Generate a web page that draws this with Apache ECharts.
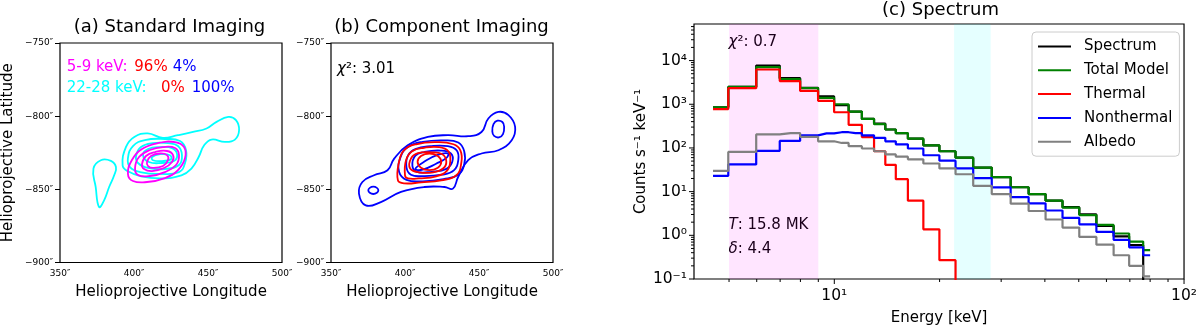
<!DOCTYPE html>
<html>
<head>
<meta charset="UTF-8">
<title>Standard / Component Imaging and Spectrum</title>
<script src="https://cdn.jsdelivr.net/npm/echarts@6/dist/echarts.min.js"></script>
<style>
  body { margin: 0; background: #fff; }
  #chart { width: 1200px; height: 331px; }
</style>
</head>
<body>
<div id="chart"></div>
<script>
var FONT = 'DejaVu Sans';

// ---- (c) spectrum: bin centres [keV] and counts s^-1 keV^-1 ----
var energy = [4.5, 5.5, 6.5, 7.5, 8.5, 9.5, 10.5, 11.5, 12.5, 13.5, 14.5, 15.5, 17, 19, 21, 23.5, 26.5, 30, 34, 38, 42.5, 47.5, 53, 59.5, 66.5, 73, 80];
var spectrum   = [850, 2490, 7700, 3980, 2380, 1510, 960, 680, 462, 362, 264, 218, 163, 115, 84, 60, 35.5, 21.4, 12.6, 8.8, 6.2, 4.4, 3.0, 1.65, 0.95, 0.6, 0.04];
var totalModel = [850, 2490, 7100, 3780, 2330, 1400, 1000, 680, 462, 350, 264, 218, 163, 115, 84, 60, 35.5, 21.4, 12.6, 8.8, 6.2, 4.3, 2.9, 1.73, 1.1, 0.72, 0.46];
var thermal    = [775, 2330, 6250, 3400, 2020, 1200, 656, 338, 177, 84, 41, 19.3, 6.2, 1.37, 0.27, 0.03];
var nonthermal = [23, 42, 86, 145, 194, 215, 229, 218, 194, 170, 142, 121, 97, 68, 51, 34, 20.4, 12.5, 7.5, 5.4, 3.7, 2.5, 1.78, 1.2, 0.79, 0.53, 0.35];
var albedo     = [30, 81, 204, 219, 180, 142, 130, 110, 97, 84, 71, 63, 55, 44, 34, 25, 13.6, 8.8, 5.3, 3.6, 2.3, 1.5, 0.92, 0.61, 0.35, 0.2, 0.115];

// shaded energy ranges used for the images
var bands = [[5, 9, 'rgba(255,0,255,0.1)'], [22, 28, 'rgba(0,255,255,0.1)']];

// log axis ticks
var xMin = 3.97, xMax = 100, yMin = 0.1, yMax = 68700;
var xMajorTicks = [10, 100];
var xMajorLabels = ['10¹', '10²'];
var xMinorTicks = [5, 6, 7, 8, 9, 20, 30, 40, 50, 60, 70, 80, 90];
var yMajorTicks = [0.1, 1, 10, 100, 1000, 10000];
var yMajorLabels = ['10⁻¹', '10⁰', '10¹', '10²', '10³', '10⁴'];
var yMinorTicks = [];
yMajorTicks.forEach(function (d) {
  for (var k = 2; k <= 9; k++) { if (d * k < yMax) yMinorTicks.push(d * k); }
});

// ---- (a) standard imaging contours [arcsec] ----
var cyanContours = [
  [[392.3,-833.6],[394.6,-821.0],[400.2,-814.2],[409.3,-811.8],[419.5,-814.9],[429.7,-813.0],[439.9,-810.8],[449.0,-808.4],[455.8,-803.9],[463.7,-800.5],[468.9,-802.7],[471.0,-809.6],[468.2,-816.0],[461.4,-817.6],[452.4,-816.0],[447.4,-819.9],[443.7,-827.9],[438.8,-835.8],[432.0,-840.4],[418.4,-842.5],[404.8,-841.1],[395.9,-837.7]],
  [[395.9,-828.6],[399.3,-820.4],[407.4,-816.3],[420.9,-815.6],[431.1,-817.0],[435.1,-823.1],[434.5,-832.0],[430.4,-838.2],[417.6,-839.5],[404.1,-838.2],[397.3,-834.8]],
  [[401.4,-827.2],[404.7,-821.1],[412.8,-818.4],[423.0,-818.4],[429.7,-820.4],[432.4,-826.6],[430.4,-833.4],[420.9,-836.1],[409.5,-835.4],[402.7,-832.0]],
  [[406.1,-826.6],[409.5,-822.5],[417.6,-821.1],[425.7,-821.8],[429.1,-825.9],[427.0,-830.7],[418.9,-832.0],[410.1,-831.3]],
  [[412.2,-828.0],[417.6,-826.0],[424.3,-826.7],[425.0,-829.4],[418.9,-830.7],[412.8,-830.1]],
  [[377.6,-830.1],[372.6,-835.8],[374.1,-848.4],[376.4,-862.1],[379.8,-857.5],[383.2,-848.4],[386.6,-840.4],[387.8,-834.7],[384.4,-830.6]]
];
var magentaContours = [
  [[395.9,-839.5],[398.6,-830.0],[405.4,-822.5],[416.2,-818.4],[427.7,-817.7],[433.8,-821.1],[434.5,-828.6],[429.7,-836.8],[420.9,-842.3],[408.8,-845.0],[399.3,-844.3]],
  [[400.7,-835.4],[403.4,-827.9],[410.8,-823.1],[419.6,-821.1],[427.7,-821.8],[430.4,-826.6],[428.4,-833.4],[420.9,-838.2],[410.8,-840.9],[402.7,-840.2]],
  [[405.4,-832.7],[408.1,-827.2],[414.2,-824.5],[422.3,-823.8],[426.4,-826.6],[425.7,-831.3],[420.3,-835.4],[412.2,-837.5],[406.8,-836.1]],
  [[408.8,-831.3],[411.5,-827.2],[417.6,-825.5],[422.3,-826.6],[423.0,-830.0],[419.6,-834.1],[412.8,-835.4],[409.5,-834.1]]
];

// ---- (b) component imaging contours [arcsec] ----
var blueContours = [
  [[368.9,-852.9],[373.5,-861.0],[383.7,-858.7],[397.3,-851.8],[413.1,-848.4],[426.7,-848.4],[432.4,-849.5],[435.9,-841.6],[442.7,-830.1],[451.7,-825.5],[463.1,-823.3],[472.1,-816.4],[474.4,-807.3],[469.9,-799.3],[463.1,-797.1],[456.3,-801.6],[451.7,-810.8],[442.7,-813.7],[429.0,-813.0],[415.4,-814.2],[401.8,-819.9],[392.7,-829.0],[388.2,-837.0],[379.1,-840.4],[371.2,-845.0]],
  [[375.2,-850.7],[376.2,-849.0],[378.6,-848.2],[381.0,-849.0],[382.0,-850.7],[381.0,-852.4],[378.6,-853.2],[376.2,-852.4]],
  [[459.0,-810.5],[459.8,-805.5],[462.5,-803.1],[465.8,-804.0],[467.0,-807.2],[466.2,-812.2],[463.5,-814.5],[460.2,-813.5]],
  [[396,-838],[397,-828],[402,-821],[412,-817.5],[426,-816.5],[436,-818],[440,-824],[440,-833],[436,-840],[426,-843],[412,-844.5],[401,-843.5]],
  [[401,-835],[402,-827],[407,-822.5],[417,-820.5],[429,-820.5],[435,-823.5],[436,-830],[433,-837],[425,-840],[412,-841],[404,-840]],
  [[405,-834],[407,-827],[413,-824.5],[424,-823.5],[431,-825.5],[432,-831],[428,-836],[418,-838],[408,-838]],
  [[407,-836],[414,-830.5],[422,-826.5],[429,-825.5],[428,-828.5],[421,-832.5],[412,-836.5]]
];
var redContours = [
  [[395.2,-843.8],[395.9,-831.5],[399.3,-823.3],[407.5,-819.2],[421.1,-817.8],[432.7,-819.2],[437.4,-823.3],[438.1,-831.5],[434.7,-840.4],[424.5,-843.8],[410.9,-845.2],[399.3,-845.9]],
  [[400.0,-840.4],[400.7,-830.1],[404.8,-824.0],[412.9,-821.6],[423.1,-821.2],[429.3,-824.0],[430.6,-830.1],[428.6,-837.0],[421.1,-841.1],[409.5,-842.5],[402.0,-842.5]],
  [[403.4,-835.6],[404.1,-828.8],[408.8,-825.3],[417.7,-824.7],[425.2,-826.0],[427.9,-830.8],[425.9,-835.6],[419.0,-838.4],[409.5,-838.4]],
  [[408.5,-831.2],[410.8,-827.2],[416.5,-825.5],[422.2,-827.2],[424.5,-831.2],[422.2,-835.2],[416.5,-836.9],[410.8,-835.2]]
];

// ---------------------------------------------------------------
function pairs(ys) {
  return ys.map(function (v, i) { return [energy[i], v]; });
}

function powLabel(ticks, labels) {
  return function (v) {
    for (var i = 0; i < ticks.length; i++) {
      if (Math.abs(Math.log10(v) - Math.log10(ticks[i])) < 1e-6) return labels[i];
    }
    return '';
  };
}

function arcsec(v) {
  return (v < 0 ? '−' : '') + Math.abs(v) + '″';
}

function contourSeries(list, color, idx) {
  return {
    type: 'custom', xAxisIndex: idx, yAxisIndex: idx, silent: true,
    data: list.map(function (c, i) { return [c[0][0], c[0][1], i]; }),
    renderItem: function (params, api) {
      var pts = list[params.dataIndex].map(function (p) { return api.coord(p); });
      return {
        type: 'polygon',
        shape: { points: pts, smooth: 0.45 },
        style: { fill: 'none', stroke: color, lineWidth: 1.8 }
      };
    }
  };
}

function tickSeries(data, dx, dy) {
  return {
    type: 'custom', xAxisIndex: 2, yAxisIndex: 2, silent: true, clip: false, z: 5,
    data: data,
    renderItem: function (params, api) {
      var p = api.coord([api.value(0), api.value(1)]);
      return {
        type: 'line',
        shape: { x1: p[0], y1: p[1], x2: p[0] + dx, y2: p[1] + dy },
        style: { stroke: '#000', lineWidth: 1 }
      };
    }
  };
}

function stepLine(name, color, ys) {
  return {
    name: name, type: 'line', xAxisIndex: 2, yAxisIndex: 2,
    step: 'middle', symbol: 'none', data: pairs(ys),
    lineStyle: { color: color, width: 2.2 }, itemStyle: { color: color }
  };
}

function text(x, y, str, color, size, align, rich) {
  return {
    type: 'text', x: x, y: y, silent: true,
    style: {
      text: str, fill: color, fontSize: size, fontFamily: FONT,
      align: align, textAlign: align, verticalAlign: 'middle', textVerticalAlign: 'middle',
      rich: rich
    }
  };
}

var italic = { i: { fontStyle: 'italic', fontSize: 15, fontFamily: FONT, fill: '#000' } };

var boxGrid = { show: true, borderColor: '#000', borderWidth: 1.2, backgroundColor: 'transparent' };

function imgXAxis(idx) {
  return {
    type: 'value', gridIndex: idx, min: 350, max: 500, interval: 50,
    name: 'Helioprojective Longitude', nameLocation: 'middle', nameGap: 22,
    nameTextStyle: { fontSize: 15, color: '#000', fontFamily: FONT },
    axisLine: { show: false }, axisTick: { show: false }, splitLine: { show: false },
    axisLabel: { formatter: arcsec, fontSize: 9, color: '#000', margin: 7, fontFamily: FONT }
  };
}
function imgYAxis(idx, withName) {
  return {
    type: 'value', gridIndex: idx, min: -900, max: -750, interval: 50,
    name: withName ? 'Helioprojective Latitude' : '', nameLocation: 'middle', nameGap: 44,
    nameTextStyle: { fontSize: 15, color: '#000', fontFamily: FONT },
    axisLine: { show: false },
    axisTick: { show: true, inside: false, length: 5, lineStyle: { color: '#000' } },
    splitLine: { show: false },
    axisLabel: { formatter: arcsec, fontSize: 9, color: '#000', margin: 7, fontFamily: FONT }
  };
}

var chart = echarts.init(document.getElementById('chart'));

var option = {
  backgroundColor: '#fff',
  animation: false,
  textStyle: { fontFamily: FONT },
  grid: [
    Object.assign({ left: 60, top: 43, width: 222, height: 219.5 }, boxGrid),
    Object.assign({ left: 331, top: 43, width: 222, height: 219.5 }, boxGrid),
    Object.assign({ left: 694, top: 24, width: 493, height: 258 }, boxGrid)
  ],
  xAxis: [
    imgXAxis(0),
    imgXAxis(1),
    {
      type: 'log', logBase: 10, gridIndex: 2, min: xMin, max: xMax,
      name: 'Energy [keV]', nameLocation: 'middle', nameGap: 32,
      nameTextStyle: { fontSize: 15, color: '#000', fontFamily: FONT },
      axisLine: { show: false }, axisTick: { show: false }, splitLine: { show: false }, minorTick: { show: false },
      axisLabel: { formatter: powLabel(xMajorTicks, xMajorLabels), fontSize: 15.5, color: '#000', margin: 9, fontFamily: FONT }
    }
  ],
  yAxis: [
    imgYAxis(0, true),
    imgYAxis(1, false),
    {
      type: 'log', logBase: 10, gridIndex: 2, min: yMin, max: yMax,
      name: 'Counts s⁻¹ keV⁻¹', nameLocation: 'middle', nameGap: 42,
      nameTextStyle: { fontSize: 15, color: '#000', fontFamily: FONT },
      axisLine: { show: false }, axisTick: { show: false }, splitLine: { show: false }, minorTick: { show: false },
      axisLabel: { formatter: powLabel(yMajorTicks, yMajorLabels), fontSize: 15.5, color: '#000', margin: 7, fontFamily: FONT }
    }
  ],
  legend: {
    data: ['Spectrum', 'Total Model', 'Thermal', 'Nonthermal', 'Albedo'],
    orient: 'vertical', left: 1032, top: 32,
    itemWidth: 33, itemHeight: 14, itemGap: 8.8,
    padding: [7, 7, 7, 5],
    itemStyle: { opacity: 0 },
    borderColor: '#cccccc', borderWidth: 1, borderRadius: 4,
    backgroundColor: 'rgba(255,255,255,0.8)',
    textStyle: { fontSize: 15, color: '#000', fontFamily: FONT, padding: [0, 0, 0, 8] }
  },
  graphic: [
    text(169.5, 27, '(a) Standard Imaging', '#000', 18, 'center'),
    text(441.5, 27, '(b) Component Imaging', '#000', 18, 'center'),
    text(940.5, 10, '(c) Spectrum', '#000', 18, 'center'),
    text(66.7, 67, '5-9 keV:', '#ff00ff', 15, 'left'),
    text(134.3, 67, '96%', '#ff0000', 15, 'left'),
    text(172.7, 67, '4%', '#0000ff', 15, 'left'),
    text(66.7, 88.5, '22-28 keV:', '#00ffff', 15, 'left'),
    text(161, 88.5, '0%', '#ff0000', 15, 'left'),
    text(191.7, 88.5, '100%', '#0000ff', 15, 'left'),
    text(337, 69, '{i|χ}²: 3.01', '#000', 15, 'left', italic),
    text(728.5, 42, '{i|χ}²: 0.7', '#000', 15, 'left', italic),
    text(728.5, 225, '{i|T}: 15.8 MK', '#000', 15, 'left', italic),
    text(728.5, 249, '{i|δ}: 4.4', '#000', 15, 'left', italic)
  ],
  series: [
    contourSeries(cyanContours, '#00ffff', 0),
    contourSeries(magentaContours, '#ff00ff', 0),
    contourSeries(blueContours, '#0000ff', 1),
    contourSeries(redContours, '#ff0000', 1),
    {
      type: 'custom', xAxisIndex: 2, yAxisIndex: 2, silent: true, z: 1,
      data: bands.map(function (b) { return [b[0], b[1]]; }),
      renderItem: function (params, api) {
        var p0 = api.coord([api.value(0), yMax]);
        var p1 = api.coord([api.value(1), yMin]);
        return {
          type: 'rect',
          shape: { x: p0[0], y: p0[1], width: p1[0] - p0[0], height: p1[1] - p0[1] },
          style: { fill: bands[params.dataIndex][2] }
        };
      }
    },
    stepLine('Spectrum', '#000000', spectrum),
    stepLine('Total Model', '#008000', totalModel),
    stepLine('Thermal', '#ff0000', thermal),
    stepLine('Nonthermal', '#0000ff', nonthermal),
    stepLine('Albedo', '#808080', albedo),
    tickSeries(xMajorTicks.map(function (v) { return [v, yMin]; }), 0, 5),
    tickSeries(xMinorTicks.map(function (v) { return [v, yMin]; }), 0, 3),
    tickSeries(yMajorTicks.map(function (v) { return [xMin, v]; }), -5, 0),
    tickSeries(yMinorTicks.map(function (v) { return [xMin, v]; }), -3, 0)
  ]
};

chart.setOption(option);
</script>
</body>
</html>
